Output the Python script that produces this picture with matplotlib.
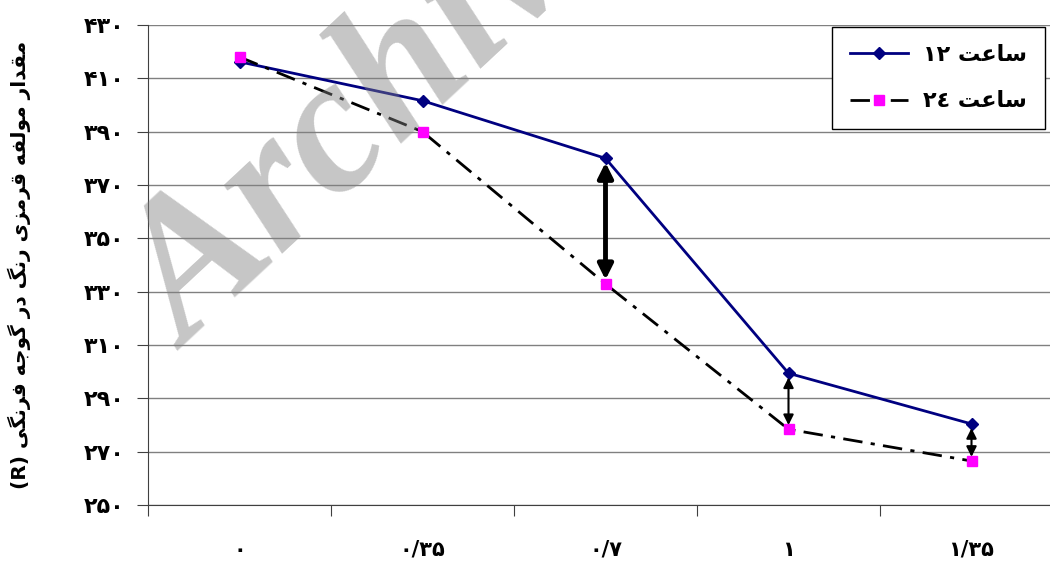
import matplotlib
matplotlib.use('Agg')
import matplotlib.pyplot as plt

# data
doses = ['۰', '۰/۳۵', '۰/۷', '۱', '۱/۳۵']
hour12 = [416.2, 401.6, 380.0, 299.4, 280.4]
hour24 = [418.0, 390.0, 332.9, 278.4, 266.5]
y_ticks = [250, 270, 290, 310, 330, 350, 370, 390, 410, 430]
y_labels = ['۲۵۰', '۲۷۰', '۲۹۰', '۳۱۰', '۳۳۰', '۳۵۰', '۳۷۰', '۳۹۰', '۴۱۰', '۴۳۰']
arrow_cats = [2, 3, 4]

# minimal arabic shaping (matplotlib has no bidi / joining support)
FORMS = {
    'ا': ('\uFE8D', '\uFE8E'),
    'د': ('\uFEA9', '\uFEAA'),
    'ر': ('\uFEAD', '\uFEAE'),
    'ز': ('\uFEAF', '\uFEB0'),
    'و': ('\uFEED', '\uFEEE'),
    'ت': ('\uFE95', '\uFE96', '\uFE97', '\uFE98'),
    'ج': ('\uFE9D', '\uFE9E', '\uFE9F', '\uFEA0'),
    'س': ('\uFEB1', '\uFEB2', '\uFEB3', '\uFEB4'),
    'ع': ('\uFEC9', '\uFECA', '\uFECB', '\uFECC'),
    'ف': ('\uFED1', '\uFED2', '\uFED3', '\uFED4'),
    'ق': ('\uFED5', '\uFED6', '\uFED7', '\uFED8'),
    'ل': ('\uFEDD', '\uFEDE', '\uFEDF', '\uFEE0'),
    'م': ('\uFEE1', '\uFEE2', '\uFEE3', '\uFEE4'),
    'ن': ('\uFEE5', '\uFEE6', '\uFEE7', '\uFEE8'),
    'ه': ('\uFEE9', '\uFEEA', '\uFEEB', '\uFEEC'),
    'ی': ('\uFBFC', '\uFBFD', '\uFBFE', '\uFBFF'),
    'گ': ('\uFB92', '\uFB93', '\uFB94', '\uFB95'),
}


def fa(text):
    out = []
    for i, ch in enumerate(text):
        f = FORMS.get(ch)
        if f is None:
            out.append(ch)
            continue
        prev = text[i - 1] if i > 0 else ''
        nxt = text[i + 1] if i + 1 < len(text) else ''
        jp = prev in FORMS and len(FORMS[prev]) == 4
        jn = len(f) == 4 and nxt in FORMS
        if jp and jn:
            out.append(f[3])
        elif jp:
            out.append(f[1])
        elif jn:
            out.append(f[2])
        else:
            out.append(f[0])
    return ''.join(reversed(out))


ylabel = '(R) ' + fa('مقدار مولفه قرمزی رنگ در گوجه فرنگی')
label12 = '۱۲ ' + fa('ساعت')
label24 = '۲٤ ' + fa('ساعت')

plt.rcParams['font.family'] = ['DejaVu Sans']
plt.rcParams['font.weight'] = 'bold'

fig = plt.figure(figsize=(10.5, 5.64), dpi=100)
ax = fig.add_axes([148 / 1050, 59 / 564, 915 / 1050, 480 / 564])

x = list(range(len(doses)))
ax.plot(x, hour12, color='#000080', lw=2, marker='D', ms=6,
        label=label12, zorder=4)
ax.plot(x, hour24, color='black', lw=2, dashes=(7, 3, 1.5, 3),
        marker='s', ms=7, mfc='#FF00FF', mec='#FF00FF', label=label24, zorder=5)

# double headed arrows between the two curves
for i in arrow_cats:
    big = i == 2
    ax.annotate('', xy=(i, hour24[i]), xytext=(i, hour12[i]),
                arrowprops=dict(arrowstyle='<|-|>,head_length=%s,head_width=%s'
                                % ((0.9, 0.45) if big else (0.6, 0.3)),
                                color='black', lw=3.5 if big else 1.5,
                                shrinkA=3, shrinkB=3),
                zorder=6)

ax.set_xlim(-0.5, len(doses) - 0.5)
ax.set_ylim(250, 430)
ax.set_yticks(y_ticks, y_labels)
ax.set_xticks([i - 0.5 for i in range(len(doses) + 1)], [''] * (len(doses) + 1))
ax.set_xticks(x, doses, minor=True)
ax.tick_params(axis='x', which='major', length=8, color='#404040')
ax.tick_params(axis='x', which='minor', length=0, pad=25, labelsize=15)
ax.tick_params(axis='y', length=8, pad=9, labelsize=16, color='#404040')
ax.yaxis.grid(True, color='#808080', lw=1)
ax.set_axisbelow(True)
for s in ['top', 'right']:
    ax.spines[s].set_visible(False)
for s in ['left', 'bottom']:
    ax.spines[s].set_color('#404040')

ax.set_ylabel(ylabel, fontsize=14.5, fontweight='bold')
ax.yaxis.set_label_coords(-0.128, 0.5)

leg = ax.legend(loc='upper left', bbox_to_anchor=(832 / 1050, 1 - 27 / 564),
                bbox_transform=fig.transFigure, borderaxespad=0,
                fancybox=False, edgecolor='black', framealpha=1,
                prop={'size': 16, 'weight': 'bold'}, handlelength=2.6,
                labelspacing=1.2, borderpad=0.8, handletextpad=0.7)
leg.get_frame().set_linewidth(1)

# watermark
fig.text(188 / 1050, 1 - 352 / 564, 'Archive', family='Liberation Serif',
         style='italic', weight='bold', fontsize=140, color='#808080',
         alpha=0.45, rotation=43, rotation_mode='anchor', ha='left',
         va='baseline', zorder=10)

fig.savefig('out.png', dpi=100)
